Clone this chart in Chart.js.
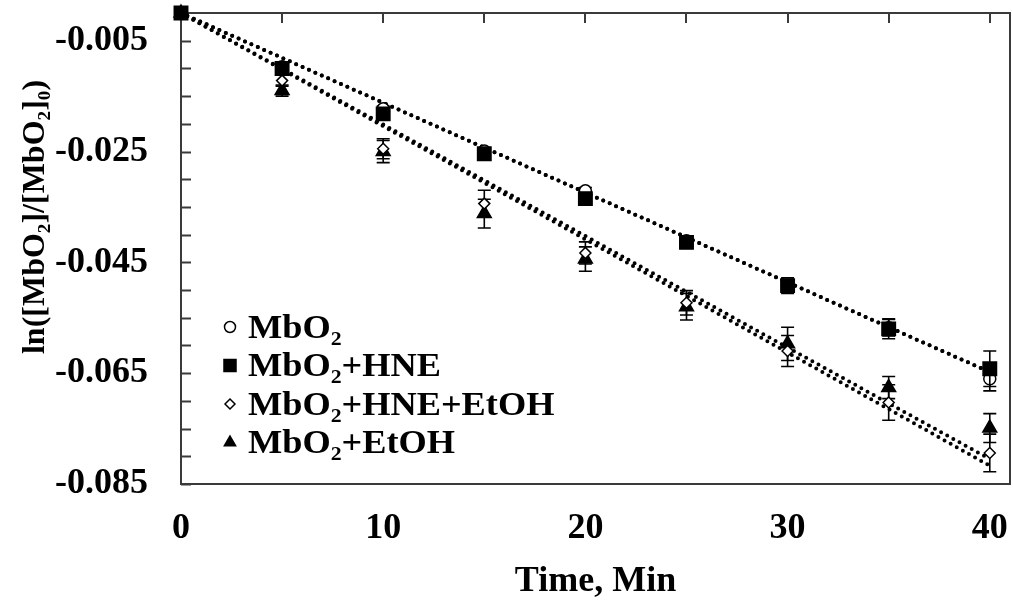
<!DOCTYPE html>
<html>
<head>
<meta charset="utf-8">
<script src="https://cdn.jsdelivr.net/npm/chart.js@4.4.1/dist/chart.umd.min.js"></script>
<style>
  html, body { margin: 0; padding: 0; background: #fff; }
  #wrap { width: 1013px; height: 605px; }
</style>
</head>
<body>
<div id="wrap"><canvas id="decay" width="1013" height="605"></canvas></div>
<script>
// sampling times (min)
const times = [0, 5, 10, 15, 20, 25, 30, 35, 40];
const seriesNames = ['MbO₂', 'MbO₂+HNE', 'MbO₂+HNE+EtOH', 'MbO₂+EtOH'];
const yTitle = 'ln([MbO₂]/[MbO₂]₀)';

// ln([MbO2]/[MbO2]0) means and error half-widths
const mbo2       = [0, -0.0097, -0.0173, -0.0249, -0.0321, -0.0411, -0.0492, -0.0568, -0.0660];
const mbo2Err    = [0, 0.0005, 0.0005, 0.0005, 0.0006, 0.0006, 0.0010, 0.0015, 0.0022];
const mbo2Hne    = [0, -0.0100, -0.0182, -0.0254, -0.0335, -0.0414, -0.0492, -0.0570, -0.0642];
const mbo2HneErr = [0, 0.0008, 0.0008, 0.0006, 0.0006, 0.0007, 0.0014, 0.0018, 0.0032];
const mbo2HneEt    = [0, -0.0122, -0.0245, -0.0344, -0.0433, -0.0523, -0.0610, -0.0703, -0.0794];
const mbo2HneEtErr = [0, 0.0010, 0.0018, 0.0024, 0.0020, 0.0022, 0.0028, 0.0032, 0.0034];
const mbo2Et    = [0, -0.0140, -0.0250, -0.0362, -0.0444, -0.0530, -0.0597, -0.0676, -0.0749];
const mbo2EtErr = [0, 0.0010, 0.0020, 0.0026, 0.0022, 0.0024, 0.0030, 0.0020, 0.0026];

// linear fits, end points at 0 and 40 min
const fitTimes     = [0, 40];
const fitMbo2      = [0, -0.0648];
const fitMbo2Hne   = [0, -0.0648];
const fitMbo2HneEt = [0, -0.0817];
const fitMbo2Et    = [0, -0.0805];

// axis ticks
const xTickValues = [0, 5, 10, 15, 20, 25, 30, 35, 40];
const xTickLabels = ['0', '10', '20', '30', '40'];
const yTickValues = [-0.085, -0.080, -0.075, -0.070, -0.065, -0.060, -0.055, -0.050, -0.045,
                     -0.040, -0.035, -0.030, -0.025, -0.020, -0.015, -0.010, -0.005];
const yTickLabels = ['-0.005', '-0.025', '-0.045', '-0.065', '-0.085'];

const FONT = "'Liberation Serif', 'Times New Roman', serif";
const INK = '#000';

const toPoints = (xs, ys) => xs.map((x, i) => ({ x: x, y: ys[i] }));

// marker look for each series
const markers = [
  { pointStyle: 'circle',   radius: 6,   fill: '#fff', legendRadius: 5.5 },
  { pointStyle: 'rect',     radius: 9.5, fill: INK,    legendRadius: 8.5 },
  { pointStyle: 'rectRot',  radius: 5.5, fill: '#fff', legendRadius: 5 },
  { pointStyle: 'triangle', radius: 8,   fill: INK,    legendRadius: 6.5 }
];

function fitLine(ys) {
  return {
    type: 'line',
    data: toPoints(fitTimes, ys),
    borderColor: INK,
    borderWidth: 4,
    borderDash: [0, 7],
    borderCapStyle: 'round',
    pointRadius: 0,
    fill: false,
    order: 10
  };
}

function pointSeries(idx, ys, errs, order) {
  const m = markers[idx];
  return {
    label: seriesNames[idx],
    data: toPoints(times, ys),
    errors: errs,
    showLine: false,
    pointStyle: m.pointStyle,
    pointRadius: m.radius,
    pointHoverRadius: m.radius,
    pointBackgroundColor: m.fill,
    pointBorderColor: INK,
    pointBorderWidth: 1.5,
    order: order
  };
}

// error bars, drawn just before each series' markers
const errorBars = {
  id: 'errorBars',
  beforeDatasetDraw(chart, args) {
    const ds = chart.data.datasets[args.index];
    if (!ds.errors) return;
    const { ctx, scales: { x, y } } = chart;
    ctx.save();
    ctx.strokeStyle = INK;
    ctx.lineWidth = 1.6;
    ds.data.forEach((p, i) => {
      const e = ds.errors[i];
      if (!e) return;
      const px = x.getPixelForValue(p.x);
      const top = y.getPixelForValue(p.y + e);
      const bot = y.getPixelForValue(p.y - e);
      ctx.beginPath();
      ctx.moveTo(px, top); ctx.lineTo(px, bot);
      ctx.moveTo(px - 6.5, top); ctx.lineTo(px + 6.5, top);
      ctx.moveTo(px - 6.5, bot); ctx.lineTo(px + 6.5, bot);
      ctx.stroke();
    });
    ctx.restore();
  }
};

// box around the plot with inward ticks on the left and top edges, plus the y title
const frame = {
  id: 'frame',
  beforeDatasetsDraw(chart) {
    const { ctx, chartArea: a, scales: { x, y } } = chart;
    ctx.save();
    ctx.strokeStyle = '#3a3a3a';
    ctx.lineWidth = 2;
    ctx.strokeRect(a.left, a.top, a.right - a.left, a.bottom - a.top);
    ctx.beginPath();
    y.ticks.forEach(t => {
      const py = Math.round(y.getPixelForValue(t.value)) + 0.5;
      ctx.moveTo(a.left, py); ctx.lineTo(a.left + 10, py);
    });
    x.ticks.forEach(t => {
      const px = Math.round(x.getPixelForValue(t.value));
      ctx.moveTo(px, a.top); ctx.lineTo(px, a.top + 10);
    });
    ctx.stroke();

    // rotated axis title, sitting a little above the middle of the axis
    ctx.translate(36, 217);
    ctx.rotate(-Math.PI / 2);
    ctx.font = 'bold 32px ' + FONT;
    ctx.fillStyle = INK;
    ctx.textAlign = 'center';
    ctx.textBaseline = 'middle';
    ctx.fillText(yTitle, 0, 0);
    ctx.restore();
  }
};

// legend in the lower left corner of the plot
const innerLegend = {
  id: 'innerLegend',
  afterDatasetsDraw(chart) {
    const { ctx, chartArea: a } = chart;
    const mx = a.left + 49, tx = a.left + 67;
    const y0 = 327, step = 38.5;
    ctx.save();
    ctx.font = 'bold 33px ' + FONT;
    ctx.textBaseline = 'middle';
    ctx.textAlign = 'left';
    seriesNames.forEach((name, i) => {
      const m = markers[i];
      const cy = y0 + i * step;
      ctx.fillStyle = m.fill;
      ctx.strokeStyle = INK;
      ctx.lineWidth = 1.5;
      Chart.helpers.drawPoint(ctx, { pointStyle: m.pointStyle, radius: m.legendRadius, rotation: 0, borderWidth: 1.5 }, mx, cy);
      ctx.fillStyle = INK;
      ctx.save();
      ctx.translate(tx, cy + 2);
      ctx.scale(1.1, 1);
      ctx.fillText(name, 0, 0);
      ctx.restore();
    });
    ctx.restore();
  }
};

new Chart(document.getElementById('decay'), {
  type: 'scatter',
  data: {
    datasets: [
      pointSeries(3, mbo2Et, mbo2EtErr, 3),
      pointSeries(2, mbo2HneEt, mbo2HneEtErr, 2),
      pointSeries(0, mbo2, mbo2Err, 1),
      pointSeries(1, mbo2Hne, mbo2HneErr, 0),
      fitLine(fitMbo2),
      fitLine(fitMbo2Hne),
      fitLine(fitMbo2HneEt),
      fitLine(fitMbo2Et)
    ]
  },
  options: {
    responsive: false,
    animation: false,
    events: [],
    layout: { autoPadding: false, padding: { top: 13, right: 3, left: 0, bottom: 0 } },
    plugins: {
      legend: { display: false },
      tooltip: { enabled: false }
    },
    elements: { point: { hitRadius: 0 } },
    clip: false,
    scales: {
      x: {
        type: 'linear',
        min: 0,
        max: 41,
        afterBuildTicks: s => { s.ticks = xTickValues.map(v => ({ value: v })); },
        afterFit: s => { s.height = 121; s.paddingLeft = 0; s.paddingRight = 0; },
        grid: { display: false, drawTicks: false },
        border: { display: false },
        ticks: {
          autoSkip: false,
          maxRotation: 0,
          padding: 23,
          color: INK,
          font: { family: FONT, size: 36, weight: 'bold' },
          callback: v => xTickLabels.includes(String(v)) ? String(v) : ''
        },
        title: {
          display: true,
          text: 'Time, Min',
          color: INK,
          font: { family: FONT, size: 36, weight: 'bold' },
          padding: { top: 0, bottom: 2 }
        }
      },
      y: {
        type: 'linear',
        min: -0.085,
        max: 0,
        afterBuildTicks: s => { s.ticks = yTickValues.map(v => ({ value: v })); },
        afterFit: s => { s.width = 181; s.paddingTop = 0; s.paddingBottom = 0; },
        grid: { display: false, drawTicks: false },
        border: { display: false },
        ticks: {
          autoSkip: false,
          padding: 33,
          color: INK,
          font: { family: FONT, size: 36, weight: 'bold' },
          callback: v => {
            const s = v.toFixed(3);
            return yTickLabels.includes(s) ? s : '';
          }
        }
      }
    }
  },
  plugins: [frame, errorBars, innerLegend]
});
</script>
</body>
</html>
